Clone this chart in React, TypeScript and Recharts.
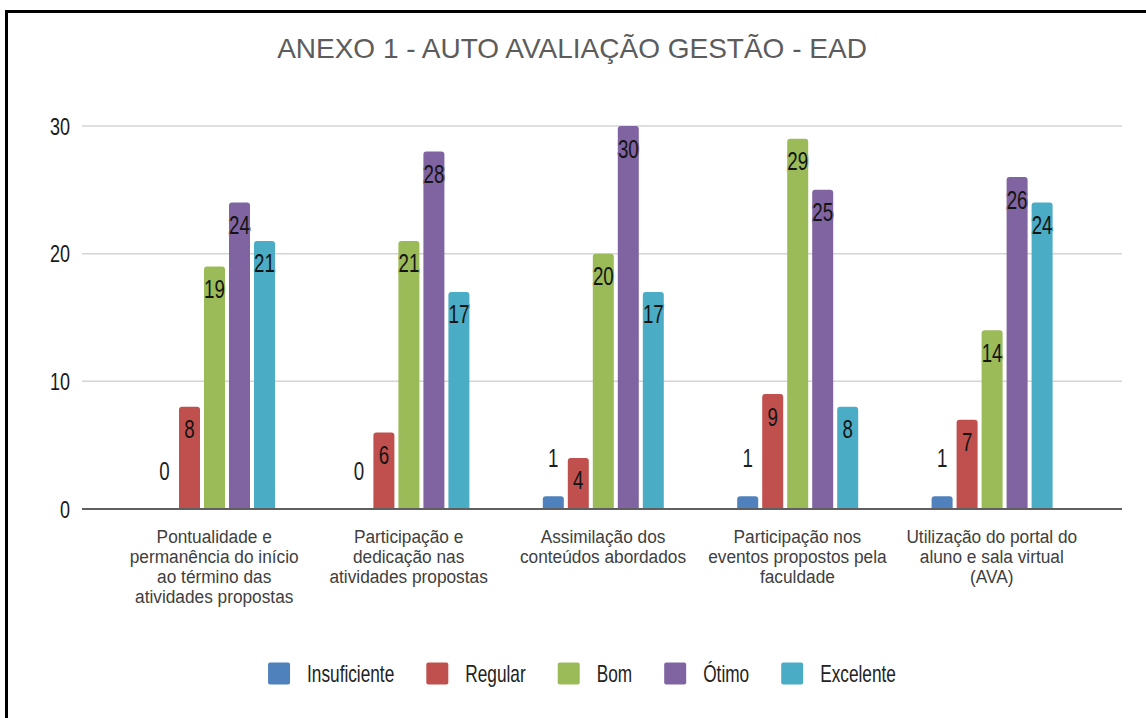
import React from 'react';
import { BarChart, Bar, XAxis, YAxis, CartesianGrid, LabelList } from 'recharts';

// Category labels (line breaks are where the axis labels wrap)
const categories = [
  'Pontualidade e\npermanência do início\nao término das\natividades propostas',
  'Participação e\ndedicação nas\natividades propostas',
  'Assimilação dos\nconteúdos abordados',
  'Participação nos\neventos propostos pela\nfaculdade',
  'Utilização do portal do\naluno e sala virtual\n(AVA)',
];

const seriesNames = ['Insuficiente', 'Regular', 'Bom', 'Ótimo', 'Excelente'];
const seriesKeys = ['insuficiente', 'regular', 'bom', 'otimo', 'excelente'];
const seriesColors = ['#4f81bd', '#c0504d', '#9bbb59', '#8064a2', '#4bacc6'];

const insuficiente = [0, 0, 1, 1, 1];
const regular = [8, 6, 4, 9, 7];
const bom = [19, 21, 20, 29, 14];
const otimo = [24, 28, 30, 25, 26];
const excelente = [21, 17, 17, 8, 24];

const yTicks = [0, 10, 20, 30];
const title = 'ANEXO 1 - AUTO AVALIAÇÃO GESTÃO - EAD';

const seriesValues = [insuficiente, regular, bom, otimo, excelente];

const data = categories.map((category, i) => {
  const row: Record<string, string | number> = { category };
  seriesKeys.forEach((k, j) => {
    row[k] = seriesValues[j][i];
  });
  return row;
});

const W = 1146;
const H = 718;
const FONT = '"Liberation Sans", Arial, sans-serif';
const NARROW = 0.75; // horizontal squeeze of the condensed labels

type CTextProps = {
  x: number;
  y: number;
  size: number;
  fill: string;
  anchor?: 'start' | 'middle' | 'end';
  stroke?: string;
  strokeWidth?: number;
  squeeze?: number;
  children: React.ReactNode;
};

function CText({ x, y, size, fill, anchor = 'middle', stroke, strokeWidth, squeeze = NARROW, children }: CTextProps) {
  return (
    <text
      transform={`translate(${x},${y}) scale(${squeeze},1)`}
      textAnchor={anchor}
      fontSize={size}
      fontFamily={FONT}
      fill={fill}
      stroke={stroke}
      strokeWidth={strokeWidth}
      strokeLinejoin="round"
      style={{ paintOrder: 'stroke' }}
    >
      {children}
    </text>
  );
}

function XTick(props: any) {
  const { x, y, payload } = props;
  const lines = String(payload.value).split('\n');
  return (
    <g>
      {lines.map((line, i) => (
        <CText key={i} x={x} y={y + 34 + i * 20} size={18} squeeze={0.96} fill="#404040">
          {line}
        </CText>
      ))}
    </g>
  );
}

function YTick(props: any) {
  const { x, y, payload } = props;
  return (
    <CText x={x} y={y + 8.5} size={24} fill="#1a1a1a" anchor="end">
      {payload.value}
    </CText>
  );
}

function makeValueLabel(color: string) {
  return function ValueLabel(props: any) {
    const { x, y, width, height, value } = props;
    if (value === undefined || value === null) return null;
    const cx = Number(x) + Number(width) / 2;
    const h = Math.abs(Number(height));
    const top = Number(height) < 0 ? Number(y) + Number(height) : Number(y);
    const inside = h >= 40;
    return inside ? (
      <CText x={cx} y={top + 31.5} size={25} fill="#141414" stroke={color} strokeWidth={3}>
        {value}
      </CText>
    ) : (
      <CText x={cx} y={top - 29} size={25} fill="#1e1e1e">
        {value}
      </CText>
    );
  };
}

function measure(text: string, size: number): number {
  try {
    const canvas = document.createElement('canvas');
    const ctx = canvas.getContext('2d');
    if (ctx) {
      ctx.font = `${size}px "Liberation Sans", Arial, sans-serif`;
      return ctx.measureText(text).width;
    }
  } catch (e) {
    // fall through to estimate
  }
  return text.length * size * 0.5;
}

function LegendRow() {
  const size = 23;
  const box = 22;
  const gapIn = 17;
  const gapOut = 32;
  const widths = seriesNames.map((n) => measure(n, size) * NARROW);
  const total =
    widths.reduce((a, b) => a + b, 0) + seriesNames.length * (box + gapIn) + (seriesNames.length - 1) * gapOut;
  const center = 582;
  const cy = 673.5;
  let cursor = center - total / 2;
  const items = seriesNames.map((name, i) => {
    const x0 = cursor;
    cursor += box + gapIn + widths[i] + gapOut;
    return (
      <g key={name}>
        <rect x={x0} y={cy - box / 2} width={box} height={box} rx={2} fill={seriesColors[i]} />
        <CText x={x0 + box + gapIn} y={cy + 8.5} size={size} fill="#222" anchor="start">
          {name}
        </CText>
      </g>
    );
  });
  return <g>{items}</g>;
}

export default function App() {
  return (
    <div style={{ position: 'absolute', left: 0, top: 0, width: W, height: H, background: '#fff', overflow: 'hidden' }}>
      <div
        style={{
          position: 'absolute',
          left: 5,
          top: 10,
          width: W,
          height: H,
          borderLeft: '3px solid #000',
          borderTop: '3px solid #000',
          boxSizing: 'border-box',
        }}
      />
      <div style={{ position: 'absolute', left: 0, top: 0 }}>
        <BarChart
          width={W}
          height={H}
          data={data}
          margin={{ top: 126, right: 24, bottom: 89, left: 22 }}
          barGap={4}
          barCategoryGap={37}
        >
          <CartesianGrid vertical={false} stroke="#d4d4d4" strokeWidth={1.5} />
          <XAxis
            dataKey="category"
            interval={0}
            height={120}
            padding={{ left: 35, right: 33 }}
            axisLine={{ stroke: '#5f5f5f', strokeWidth: 2 }}
            tickLine={false}
            tickSize={0}
            tickMargin={0}
            tick={<XTick />}
          />
          <YAxis
            width={60}
            domain={[0, 30]}
            ticks={yTicks}
            axisLine={false}
            tickLine={false}
            tickSize={0}
            tickMargin={12}
            tick={<YTick />}
          />
          {seriesKeys.map((k, i) => (
            <Bar
              key={k}
              dataKey={k}
              name={seriesNames[i]}
              fill={seriesColors[i]}
              radius={[3, 3, 0, 0]}
              minPointSize={0.01}
              isAnimationActive={false}
            >
              <LabelList dataKey={k} content={makeValueLabel(seriesColors[i])} />
            </Bar>
          ))}
        </BarChart>
      </div>
      <svg width={W} height={H} style={{ position: 'absolute', left: 0, top: 0, pointerEvents: 'none' }}>
        <text x={572} y={58} textAnchor="middle" fontSize={28} fontFamily={FONT} fill="#5c5c5c">
          {title}
        </text>
        <LegendRow />
      </svg>
    </div>
  );
}
